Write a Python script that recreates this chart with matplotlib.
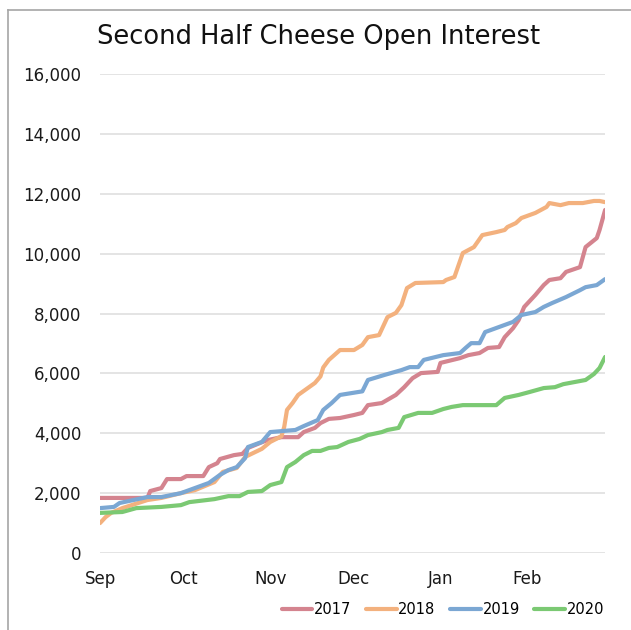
import matplotlib
matplotlib.use("Agg")
import matplotlib.pyplot as plt
from matplotlib.lines import Line2D
from matplotlib.ticker import FuncFormatter

# days since Sep 1 and open interest for each season
days_2017 = [0, 17, 18, 22, 24, 29, 31, 37, 39, 42, 43, 48, 51, 53, 58, 60, 65, 71, 73, 77, 79, 82, 86, 91, 94, 96,
             101, 106, 109, 112, 115, 121, 122, 129, 132, 136, 139, 143, 145, 148, 150, 152, 156, 159, 161, 165,
             167, 172, 174, 178, 179, 181]
oi_2017 = [1840, 1840, 2070, 2170, 2470, 2470, 2570, 2570, 2870, 3000, 3140, 3270, 3310, 3510, 3700, 3770, 3870,
           3870, 4040, 4180, 4340, 4480, 4510, 4610, 4680, 4940, 5010, 5280, 5540, 5840, 6010, 6050, 6350, 6510,
           6610, 6680, 6850, 6880, 7210, 7510, 7780, 8220, 8620, 8950, 9120, 9180, 9390, 9550, 10220, 10520,
           10790, 11460]

days_2018 = [0, 2, 4, 8, 17, 22, 29, 34, 41, 44, 49, 52, 58, 61, 65, 66, 67, 69, 71, 77, 79, 80, 82, 86, 91, 94,
             96, 100, 103, 106, 108, 110, 113, 123, 124, 127, 130, 134, 137, 142, 145, 146, 149, 151, 156, 160,
             161, 165, 168, 173, 177, 179, 181]
oi_2018 = [1000, 1200, 1340, 1500, 1770, 1840, 2000, 2100, 2370, 2710, 2840, 3210, 3480, 3710, 3900, 4210, 4780,
           5010, 5280, 5680, 5900, 6200, 6450, 6780, 6780, 6950, 7210, 7280, 7880, 8020, 8280, 8850, 9020, 9050,
           9120, 9220, 10020, 10220, 10620, 10720, 10790, 10890, 11020, 11190, 11360, 11560, 11690, 11620, 11690,
           11690, 11760, 11760, 11720]

days_2019 = [0, 5, 7, 12, 17, 22, 29, 34, 39, 43, 46, 49, 52, 53, 58, 61, 70, 73, 78, 80, 83, 86, 94, 96, 102,
             108, 111, 114, 116, 123, 129, 131, 133, 136, 138, 143, 148, 151, 156, 159, 162, 167, 172, 174, 178, 181]
oi_2019 = [1500, 1540, 1670, 1770, 1870, 1870, 2000, 2170, 2340, 2610, 2770, 2870, 3170, 3540, 3710, 4040, 4110,
           4240, 4440, 4780, 5010, 5280, 5400, 5780, 5950, 6110, 6210, 6210, 6450, 6610, 6680, 6850, 7010, 7010,
           7380, 7550, 7720, 7950, 8050, 8220, 8350, 8550, 8780, 8880, 8950, 9150]

days_2020 = [0, 8, 13, 22, 29, 32, 41, 46, 50, 53, 58, 61, 65, 67, 70, 73, 76, 79, 82, 85, 89, 93, 96, 101, 103,
             107, 109, 114, 119, 123, 126, 130, 142, 145, 150, 154, 159, 163, 166, 174, 177, 179, 181]
oi_2020 = [1340, 1370, 1500, 1540, 1600, 1700, 1800, 1900, 1900, 2040, 2070, 2270, 2370, 2870, 3040, 3270, 3410,
           3410, 3510, 3540, 3710, 3810, 3940, 4040, 4110, 4180, 4540, 4680, 4680, 4810, 4880, 4940, 4940, 5180,
           5280, 5380, 5510, 5540, 5640, 5780, 5980, 6180, 6550]

month_pos = [0, 30, 61, 91, 122, 153]
month_names = ["Sep", "Oct", "Nov", "Dec", "Jan", "Feb"]

series = [
    ("2017", days_2017, oi_2017, "#d4848f"),
    ("2018", days_2018, oi_2018, "#f3b17e"),
    ("2019", days_2019, oi_2019, "#7ba7d3"),
    ("2020", days_2020, oi_2020, "#7bc973"),
]

plt.rcParams["font.family"] = "DejaVu Sans"

fig = plt.figure(figsize=(6.31, 6.30), dpi=100)
ax = fig.add_axes([0.1585, 0.1222, 0.8005, 0.7603])

for name, d, v, c in series:
    ax.plot(d, v, color=c, lw=3.0, label=name, solid_joinstyle="round", solid_capstyle="round")

ax.set_xlim(0, 181)
ax.set_ylim(0, 16000)
ax.set_yticks(range(0, 16001, 2000))
ax.yaxis.set_major_formatter(FuncFormatter(lambda y, _: "{:,.0f}".format(y)))
ax.set_xticks(month_pos)
ax.set_xticklabels(month_names)
ax.grid(axis="y", color="#dddddd", lw=1.1)
ax.set_axisbelow(True)
for sp in ax.spines.values():
    sp.set_visible(False)
ax.tick_params(axis="y", length=0, pad=13.5, labelsize=12, colors="#1a1a1a")
ax.tick_params(axis="x", length=0, pad=12, labelsize=12, colors="#1a1a1a")

fig.text(0.505, 0.941, "Second Half Cheese Open Interest", ha="center", va="center",
         fontsize=18.5, color="#111111")

ax.legend(loc="center", bbox_to_anchor=(0.702, 0.032), bbox_transform=fig.transFigure,
          ncol=4, frameon=False, fontsize=10.5, handlelength=2.1, handletextpad=0.12,
          columnspacing=1.0)

# outer chart border (left and top edges)
fig.add_artist(Line2D([8 / 631, 8 / 631], [0, 1 - 10 / 630], transform=fig.transFigure,
                      color="#a6a6a6", lw=1.2))
fig.add_artist(Line2D([8 / 631, 1], [1 - 10 / 630, 1 - 10 / 630], transform=fig.transFigure,
                      color="#a6a6a6", lw=1.2))

fig.savefig("out.png", dpi=100, facecolor="white")
plt.close(fig)
